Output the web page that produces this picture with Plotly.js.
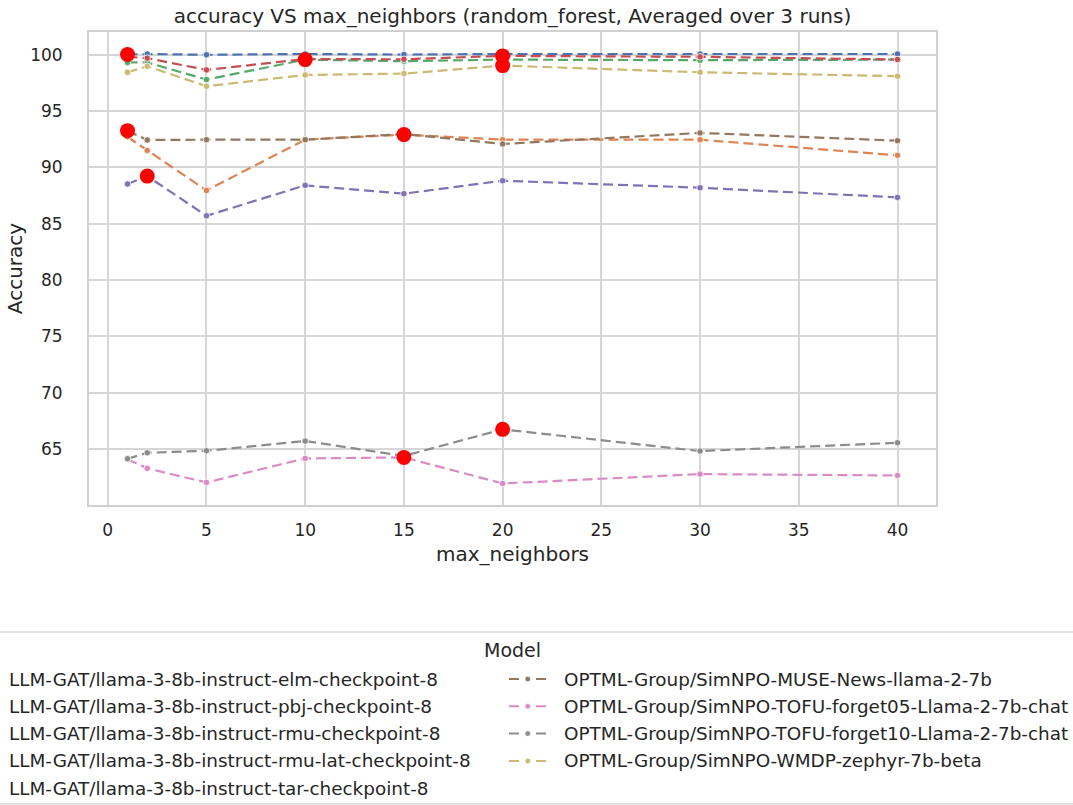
<!DOCTYPE html>
<html>
<head>
<meta charset="utf-8">
<script src="https://cdn.plot.ly/plotly-3.0.1.min.js"></script>
<style>
  html, body { margin: 0; padding: 0; background: #ffffff; }
  #chart { width: 1073px; height: 805px; }
</style>
</head>
<body>
<div id="chart"></div>
<script>
// ---------------- data ----------------
const maxNeighbors = [1, 2, 5, 10, 15, 20, 30, 40];

const models = [
  "LLM-GAT/llama-3-8b-instruct-elm-checkpoint-8",
  "LLM-GAT/llama-3-8b-instruct-pbj-checkpoint-8",
  "LLM-GAT/llama-3-8b-instruct-rmu-checkpoint-8",
  "LLM-GAT/llama-3-8b-instruct-rmu-lat-checkpoint-8",
  "LLM-GAT/llama-3-8b-instruct-tar-checkpoint-8",
  "OPTML-Group/SimNPO-MUSE-News-llama-2-7b",
  "OPTML-Group/SimNPO-TOFU-forget05-Llama-2-7b-chat",
  "OPTML-Group/SimNPO-TOFU-forget10-Llama-2-7b-chat",
  "OPTML-Group/SimNPO-WMDP-zephyr-7b-beta"
];

const accElm     = [100.0, 100.05, 99.98, 100.05, 100.0, 100.05, 100.05, 100.05];
const accPbj     = [92.7, 91.5, 87.95, 92.45, 92.9, 92.45, 92.45, 91.06];
const accRmu     = [99.3, 99.3, 97.78, 99.55, 99.41, 99.55, 99.5, 99.55];
const accRmuLat  = [99.8, 99.68, 98.64, 99.6, 99.58, 99.88, 99.8, 99.56];
const accTar     = [88.52, 89.22, 85.7, 88.4, 87.66, 88.81, 88.19, 87.33];
const accMuse    = [93.25, 92.42, 92.45, 92.45, 92.95, 92.07, 93.05, 92.36];
const accTofu05  = [64.1, 63.3, 62.05, 64.18, 64.27, 61.96, 62.79, 62.67];
const accTofu10  = [64.15, 64.68, 64.86, 65.72, 64.4, 66.76, 64.83, 65.57];
const accWmdp    = [98.43, 98.96, 97.19, 98.19, 98.31, 99.02, 98.43, 98.08];

const seriesValues = [accElm, accPbj, accRmu, accRmuLat, accTar, accMuse, accTofu05, accTofu10, accWmdp];

// highlighted (best) point for each model
const bestX = [1, 15, 10, 20, 2, 1, 15, 20, 20];
const bestY = [100.0, 92.9, 99.55, 99.88, 89.22, 93.25, 64.27, 66.76, 99.02];

const xTicks = [0, 5, 10, 15, 20, 25, 30, 35, 40];
const yTicks = [65, 70, 75, 80, 85, 90, 95, 100];

// ---------------- styles ----------------
const colors = ["#4c72b0", "#dd8452", "#55a868", "#c44e52", "#8172b3",
                "#937860", "#da8bc3", "#8c8c8c", "#ccb974"];
const FONT = "DejaVu Sans, Liberation Sans, sans-serif";
const TXT = "#262626";
const GRID = "#d6d6d6";

const W = 1073, H = 805;
const L = 89, R = 936, T = 32, B = 505;
const px2x = p => (p - L) / (R - L);
const py2y = p => (B - p) / (B - T);

// ---------------- traces ----------------
const traces = models.map((name, i) => ({
  type: "scatter",
  mode: "lines+markers",
  name: name,
  x: maxNeighbors,
  y: seriesValues[i],
  line: { color: colors[i], width: 2.2, dash: "10px,5px" },
  marker: { color: colors[i], size: 6.5, line: { color: "#ffffff", width: 0.8 } },
  showlegend: false,
  hoverinfo: "x+y+name"
}));

traces.push({
  type: "scatter",
  mode: "markers",
  name: "best",
  x: bestX,
  y: bestY,
  marker: { color: "#ff0000", size: 15, line: { width: 0 } },
  showlegend: false,
  hoverinfo: "x+y"
});

// ---------------- legend (drawn manually, matching reference layout) ----------------
const annotations = [];
const shapes = [];

annotations.push({
  xref: "paper", yref: "paper",
  x: px2x(512), y: py2y(650),
  xanchor: "center", yanchor: "middle",
  text: "Model", showarrow: false,
  font: { family: FONT, size: 19, color: TXT }
});

// frame of the legend (extends past the page edges as in the reference)
shapes.push({
  type: "rect", xref: "paper", yref: "paper",
  x0: px2x(-45), x1: px2x(1118), y0: py2y(804), y1: py2y(632),
  line: { color: "#d9d9d9", width: 1.5 },
  fillcolor: "rgba(255,255,255,0)", layer: "above"
});

const rowY = [679, 706.3, 733.6, 760.9, 788.2];
const colTextX = [7, 562];
const colSymX = [-46, 509];
models.forEach((name, i) => {
  const col = i < 5 ? 0 : 1;
  const row = i < 5 ? i : i - 5;
  const yy = rowY[row];
  annotations.push({
    xref: "paper", yref: "paper",
    x: px2x(colTextX[col]), y: py2y(yy),
    xanchor: "left", yanchor: "middle",
    text: name, showarrow: false,
    font: { family: FONT, size: 18.4, color: TXT }
  });
  const s0 = colSymX[col];
  shapes.push({
    type: "line", xref: "paper", yref: "paper",
    x0: px2x(s0), x1: px2x(s0 + 37), y0: py2y(yy), y1: py2y(yy),
    line: { color: colors[i], width: 2, dash: "10px,17px" }, layer: "above"
  });
  shapes.push({
    type: "circle", xref: "paper", yref: "paper",
    x0: px2x(s0 + 16), x1: px2x(s0 + 21.5), y0: py2y(yy + 2.75), y1: py2y(yy - 2.75),
    fillcolor: colors[i], line: { color: "#ffffff", width: 0.6 }, layer: "above"
  });
});

// ---------------- layout ----------------
const layout = {
  width: W, height: H,
  margin: { l: L, r: W - R, t: T, b: H - B, pad: 0, autoexpand: false },
  paper_bgcolor: "#ffffff",
  plot_bgcolor: "#ffffff",
  font: { family: FONT, color: TXT, size: 16 },
  title: {
    text: "accuracy VS max_neighbors (random_forest, Averaged over 3 runs)",
    font: { family: FONT, size: 20, color: TXT },
    x: 512.5 / W, xanchor: "center",
    y: 1 - 16 / H, yanchor: "middle"
  },
  xaxis: {
    range: [-0.95, 41.95],
    tickvals: xTicks,
    ticktext: xTicks.map(String),
    showgrid: true, gridcolor: GRID, gridwidth: 1.5,
    zeroline: false,
    showline: true, mirror: true, linecolor: "#d0d0d0", linewidth: 2,
    ticks: "outside", ticklen: 9, tickcolor: "rgba(0,0,0,0)",
    tickfont: { family: FONT, size: 17, color: TXT },
    title: { text: "max_neighbors", font: { family: FONT, size: 20, color: TXT }, standoff: 8 },
    automargin: false
  },
  yaxis: {
    range: [60.05, 102.0],
    tickvals: yTicks,
    ticktext: yTicks.map(String),
    showgrid: true, gridcolor: GRID, gridwidth: 1.5,
    zeroline: false,
    showline: true, mirror: true, linecolor: "#d0d0d0", linewidth: 2,
    ticks: "outside", ticklen: 21, tickcolor: "rgba(0,0,0,0)",
    tickfont: { family: FONT, size: 17, color: TXT },
    title: { text: "Accuracy", font: { family: FONT, size: 20, color: TXT }, standoff: 2 },
    automargin: false
  },
  showlegend: false,
  annotations: annotations,
  shapes: shapes
};

Plotly.newPlot("chart", traces, layout, { displayModeBar: false, responsive: false });
</script>
</body>
</html>
